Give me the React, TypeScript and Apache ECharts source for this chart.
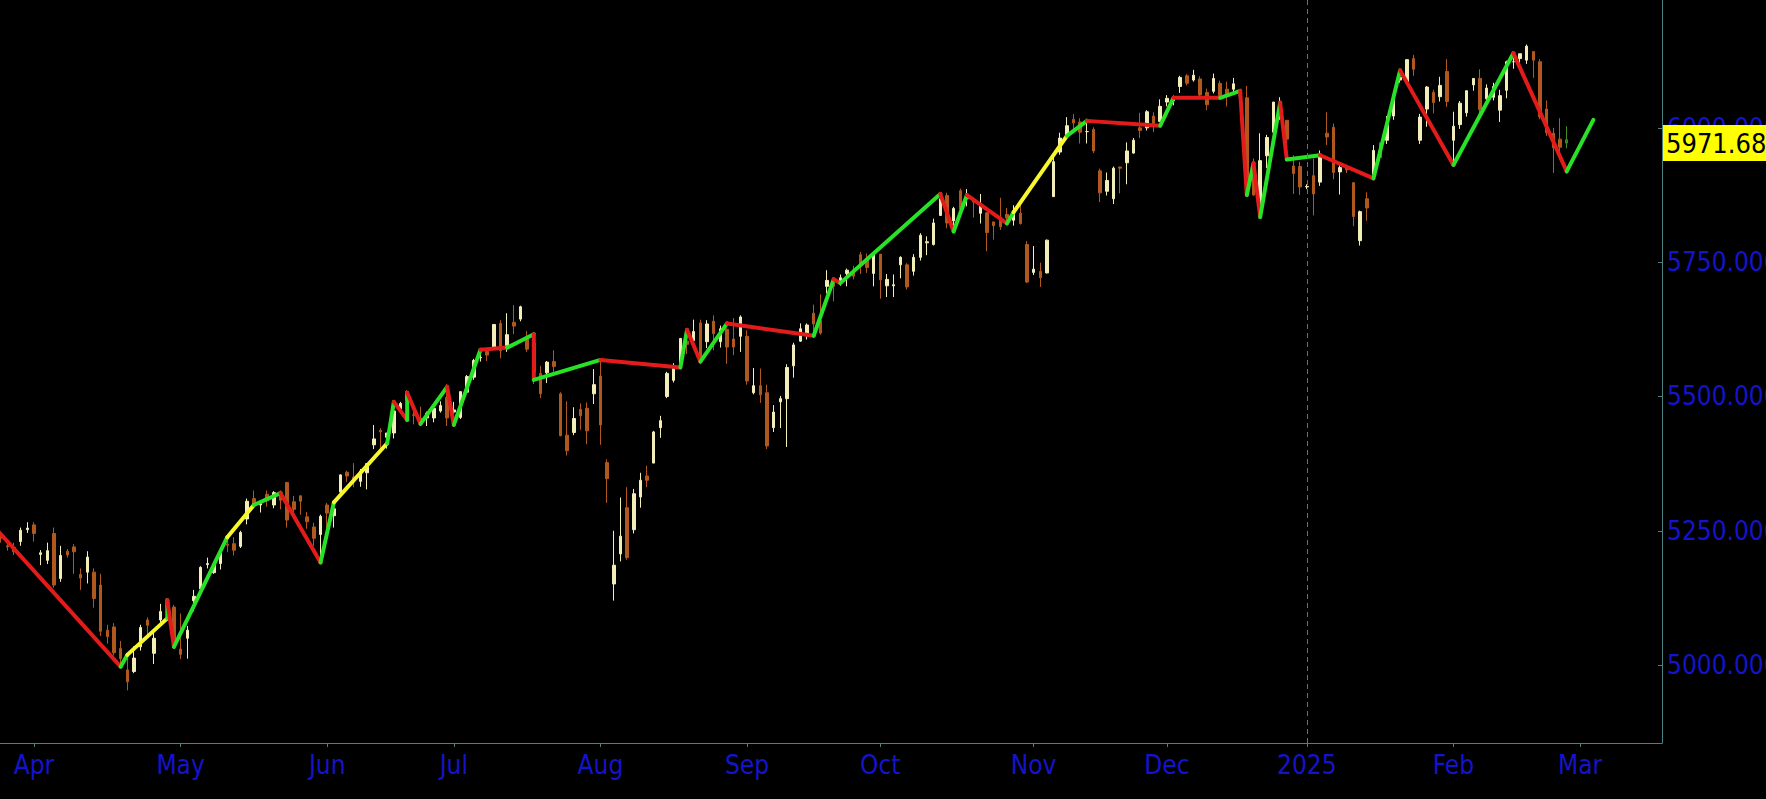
import { useEffect, useRef } from 'react';
import * as echarts from 'echarts';

type Bar = [number, number, number, number, number]; // day, open, close, low, high

const mar2024: Bar[] = [
  [22, 5242, 5236, 5228, 5246], [25, 5222, 5220, 5213, 5230], [26, 5219, 5211, 5205, 5228],
  [27, 5230, 5251, 5222, 5256], [28, 5252, 5255, 5246, 5266],
];
const apr2024: Bar[] = [
  [1, 5261, 5245, 5230, 5266], [2, 5206, 5209, 5186, 5214], [3, 5195, 5213, 5188, 5228],
  [4, 5245, 5149, 5144, 5256], [5, 5161, 5204, 5155, 5222], [8, 5212, 5205, 5200, 5216],
  [9, 5220, 5211, 5170, 5225], [10, 5169, 5162, 5140, 5180], [11, 5173, 5201, 5152, 5212],
  [12, 5173, 5124, 5107, 5180], [15, 5149, 5063, 5054, 5170], [16, 5065, 5053, 5040, 5075],
  [17, 5071, 5023, 5018, 5078], [18, 5031, 5012, 4995, 5045], [19, 4991, 4969, 4953, 5019],
  [22, 4988, 5013, 4985, 5035], [23, 5034, 5070, 5027, 5075], [24, 5084, 5074, 5052, 5089],
  [25, 5022, 5050, 5002, 5060], [26, 5084, 5100, 5080, 5114], [29, 5114, 5118, 5088, 5124],
  [30, 5108, 5038, 5035, 5112],
];
const may2024: Bar[] = [
  [1, 5030, 5020, 5011, 5096], [2, 5050, 5065, 5012, 5073], [3, 5120, 5128, 5100, 5140],
  [6, 5142, 5182, 5140, 5184], [7, 5187, 5189, 5180, 5200], [8, 5172, 5188, 5170, 5192],
  [9, 5189, 5208, 5178, 5214], [10, 5225, 5223, 5210, 5240], [13, 5226, 5214, 5204, 5238],
  [14, 5221, 5247, 5218, 5250], [15, 5272, 5305, 5262, 5310], [16, 5310, 5298, 5296, 5325],
  [17, 5298, 5303, 5284, 5306], [20, 5318, 5306, 5295, 5325], [21, 5298, 5321, 5292, 5324],
  [22, 5320, 5307, 5290, 5325], [23, 5340, 5270, 5256, 5341], [24, 5304, 5290, 5280, 5315],
  [28, 5315, 5305, 5280, 5316], [29, 5276, 5267, 5254, 5285], [30, 5257, 5236, 5222, 5265],
  [31, 5243, 5277, 5191, 5280],
];
const jun2024: Bar[] = [
  [3, 5298, 5283, 5234, 5302], [4, 5278, 5291, 5256, 5298], [5, 5322, 5354, 5315, 5355],
  [6, 5359, 5352, 5341, 5362], [7, 5350, 5347, 5331, 5376], [10, 5342, 5361, 5332, 5365],
  [11, 5358, 5375, 5327, 5376], [12, 5410, 5421, 5402, 5447], [13, 5437, 5434, 5403, 5441],
  [14, 5424, 5432, 5403, 5432], [17, 5432, 5473, 5422, 5489], [18, 5477, 5487, 5474, 5490],
  [20, 5509, 5493, 5465, 5512], [21, 5466, 5465, 5448, 5478], [24, 5460, 5448, 5445, 5481],
  [25, 5460, 5469, 5445, 5472], [26, 5460, 5478, 5452, 5483], [27, 5473, 5483, 5470, 5491],
  [28, 5498, 5460, 5445, 5523],
];
const jul2024: Bar[] = [
  [1, 5471, 5475, 5446, 5490], [2, 5461, 5509, 5458, 5510], [3, 5508, 5537, 5508, 5540],
  [5, 5536, 5567, 5531, 5570], [8, 5572, 5573, 5565, 5583], [9, 5584, 5577, 5566, 5590],
  [10, 5592, 5634, 5588, 5635], [11, 5636, 5585, 5571, 5642], [12, 5590, 5615, 5583, 5655],
  [15, 5638, 5631, 5616, 5670], [16, 5644, 5667, 5640, 5669], [17, 5610, 5588, 5583, 5622],
  [18, 5599, 5545, 5523, 5614], [19, 5543, 5505, 5497, 5557], [22, 5544, 5564, 5525, 5566],
  [23, 5565, 5556, 5546, 5586], [24, 5505, 5427, 5426, 5508], [25, 5428, 5399, 5390, 5491],
  [26, 5433, 5459, 5428, 5480], [29, 5476, 5464, 5438, 5487], [30, 5478, 5436, 5411, 5489],
  [31, 5505, 5522, 5486, 5551],
];
const aug2024: Bar[] = [
  [1, 5538, 5447, 5410, 5566], [2, 5377, 5347, 5302, 5383], [5, 5151, 5186, 5120, 5250],
  [6, 5207, 5240, 5193, 5312], [7, 5293, 5200, 5196, 5331], [8, 5252, 5319, 5245, 5328],
  [9, 5313, 5344, 5293, 5358], [12, 5352, 5344, 5331, 5371], [13, 5376, 5434, 5376, 5436],
  [14, 5442, 5455, 5423, 5464], [15, 5500, 5543, 5497, 5546], [16, 5530, 5554, 5526, 5562],
  [19, 5558, 5608, 5553, 5609], [20, 5603, 5597, 5579, 5620], [21, 5604, 5621, 5591, 5643],
  [22, 5637, 5571, 5560, 5643], [23, 5602, 5635, 5590, 5642], [26, 5640, 5617, 5586, 5651],
  [27, 5602, 5626, 5591, 5632], [28, 5625, 5592, 5561, 5627], [29, 5607, 5592, 5577, 5646],
  [30, 5612, 5648, 5583, 5651],
];
const sep2024: Bar[] = [
  [3, 5612, 5529, 5522, 5623], [4, 5507, 5520, 5504, 5553], [5, 5520, 5503, 5488, 5552],
  [6, 5507, 5408, 5402, 5522], [9, 5442, 5471, 5434, 5484], [10, 5490, 5496, 5441, 5501],
  [11, 5496, 5554, 5406, 5560], [12, 5557, 5596, 5535, 5600], [13, 5603, 5626, 5602, 5636],
  [16, 5615, 5633, 5606, 5636], [17, 5655, 5635, 5612, 5671], [18, 5641, 5618, 5615, 5690],
  [19, 5705, 5716, 5692, 5735], [20, 5711, 5705, 5677, 5718], [23, 5713, 5721, 5706, 5727],
  [24, 5729, 5735, 5705, 5738], [25, 5735, 5724, 5718, 5743], [26, 5764, 5747, 5728, 5769],
  [27, 5757, 5740, 5730, 5766], [30, 5729, 5764, 5705, 5767],
];
const oct2024: Bar[] = [
  [1, 5765, 5717, 5682, 5765], [2, 5706, 5718, 5685, 5728], [3, 5706, 5708, 5685, 5727],
  [4, 5745, 5759, 5720, 5761], [7, 5745, 5704, 5699, 5748], [8, 5733, 5759, 5725, 5765],
  [9, 5759, 5800, 5753, 5804], [10, 5786, 5788, 5763, 5798], [11, 5783, 5823, 5781, 5831],
  [14, 5837, 5868, 5837, 5879], [15, 5874, 5823, 5813, 5879], [16, 5827, 5850, 5818, 5853],
  [17, 5883, 5849, 5848, 5887], [18, 5868, 5873, 5854, 5886], [21, 5865, 5862, 5833, 5870],
  [22, 5841, 5859, 5822, 5877], [23, 5842, 5805, 5770, 5843], [24, 5825, 5818, 5792, 5825],
  [25, 5834, 5816, 5810, 5870], [28, 5839, 5832, 5827, 5851], [29, 5828, 5841, 5818, 5856],
  [30, 5841, 5822, 5820, 5858], [31, 5783, 5713, 5711, 5789],
];
const nov2024: Bar[] = [
  [1, 5731, 5737, 5726, 5780], [4, 5733, 5721, 5704, 5749], [5, 5730, 5791, 5729, 5792],
  [6, 5872, 5937, 5872, 5944], [7, 5955, 5981, 5950, 5991], [8, 5985, 6004, 5979, 6020],
  [11, 6016, 6009, 5994, 6026], [12, 6011, 5992, 5971, 6018], [13, 5993, 5993, 5971, 6017],
  [14, 5997, 5957, 5953, 6001], [15, 5920, 5879, 5862, 5924], [18, 5882, 5902, 5874, 5917],
  [19, 5868, 5925, 5858, 5928], [20, 5927, 5925, 5878, 5928], [21, 5935, 5957, 5895, 5973],
  [22, 5953, 5977, 5952, 5981], [25, 6000, 5995, 5981, 6028], [26, 6000, 6030, 5995, 6033],
  [27, 6022, 6007, 5992, 6029], [29, 6012, 6040, 6012, 6053],
];
const dec2024: Bar[] = [
  [2, 6048, 6055, 6040, 6061], [3, 6050, 6058, 6042, 6060], [4, 6077, 6094, 6065, 6097],
  [5, 6097, 6083, 6079, 6100], [6, 6089, 6098, 6086, 6108], [9, 6091, 6061, 6056, 6096],
  [10, 6066, 6043, 6033, 6073], [11, 6068, 6092, 6064, 6101], [12, 6083, 6059, 6058, 6088],
  [13, 6072, 6059, 6040, 6086], [16, 6072, 6082, 6067, 6093], [17, 6061, 6059, 6044, 6066],
  [18, 6056, 5880, 5875, 6078], [19, 5921, 5875, 5874, 5943], [20, 5851, 5939, 5840, 5990],
  [23, 5948, 5982, 5925, 5987], [24, 5992, 6048, 5991, 6048], [26, 6032, 6046, 6015, 6057],
  [27, 6014, 5979, 5941, 6014], [30, 5929, 5915, 5877, 5949], [31, 5928, 5890, 5875, 5937],
];
const jan2025: Bar[] = [
  [1, 5890, 5891, 5886, 5895], [2, 5911, 5877, 5837, 5943], [3, 5899, 5950, 5892, 5958],
  [6, 5990, 5983, 5968, 6029], [7, 6001, 5917, 5904, 6008], [8, 5918, 5926, 5876, 5935],
  [9, 5926, 5922, 5916, 5930], [10, 5898, 5835, 5817, 5898], [13, 5790, 5844, 5781, 5846],
  [14, 5868, 5851, 5827, 5880], [15, 5913, 5958, 5905, 5968], [16, 5957, 5945, 5937, 5973],
  [17, 5977, 6005, 5970, 6022], [21, 6022, 6057, 6015, 6059], [22, 6089, 6094, 6084, 6108],
  [23, 6084, 6127, 6083, 6127], [24, 6129, 6109, 6097, 6136], [27, 5977, 6020, 5970, 6026],
  [28, 6035, 6076, 6002, 6078], [29, 6066, 6047, 6027, 6071], [30, 6058, 6079, 6049, 6095],
  [31, 6105, 6049, 6039, 6128],
];
const feb2025: Bar[] = [
  [3, 5977, 6003, 5931, 6030], [4, 6006, 6046, 5998, 6050], [5, 6028, 6069, 6021, 6070],
  [6, 6080, 6092, 6069, 6092], [7, 6092, 6034, 6026, 6109], [10, 6054, 6074, 6049, 6081],
  [11, 6057, 6077, 6051, 6084], [12, 6033, 6060, 6011, 6071], [13, 6070, 6123, 6055, 6125],
  [14, 6123, 6123, 6110, 6135], [18, 6129, 6138, 6119, 6138], [19, 6126, 6152, 6119, 6155],
  [20, 6142, 6126, 6093, 6142], [21, 6123, 6021, 6016, 6128], [24, 6035, 5991, 5985, 6051],
  [25, 5990, 5963, 5916, 6000], [26, 5979, 5964, 5943, 6018], [27, 5978, 5971.689, 5962, 6003],
];

// months in order, with the label the time axis prints at the first session of each
const monthBars: Bar[][] = [mar2024, apr2024, may2024, jun2024, jul2024, aug2024, sep2024, oct2024, nov2024, dec2024, jan2025, feb2025];
const monthNames = ['', 'Apr', 'May', 'Jun', 'Jul', 'Aug', 'Sep', 'Oct', 'Nov', 'Dec', '2025', 'Feb'];
// sessions still to come before the first March session (Feb 28)
const sessionsBeforeMarch = 1;

// zigzag swing points [session index, price] and the colour of each leg between them
const swingPoints: [number, number][] = [
  [-0.3, 5248], [18, 4997], [19, 5019], [25, 5087], [25, 5121], [26, 5034], [34, 5238],
  [38, 5298], [42, 5320], [48, 5191], [50, 5303], [58, 5413], [59, 5490], [61, 5456],
  [61, 5507], [63, 5449], [67, 5518], [68, 5447], [72, 5587], [76, 5591], [80, 5616],
  [80, 5531], [90, 5568], [102, 5554], [103, 5624], [105, 5565], [109, 5636], [122, 5613],
  [125, 5718], [126, 5711], [141, 5877], [143, 5807], [145, 5875], [151, 5822], [152, 5843],
  [160, 5985], [163, 6013], [174, 6004], [176, 6056], [183, 6056], [186, 6069], [187, 5875],
  [188, 5934], [189, 5834], [192, 6047], [193, 5941], [198, 5949], [206, 5906], [210, 6107],
  [218, 5931], [227, 6139], [235, 5919], [239, 6015],
];
const legColours = [
  'red', 'green', 'yellow', 'green',
  'red', 'green', 'yellow', 'green',
  'red', 'green', 'yellow', 'green',
  'red', 'green', 'red', 'green', 'red', 'green', 'red', 'green', 'red', 'green',
  'red', 'green', 'red', 'green', 'red', 'green', 'red', 'green', 'red', 'green', 'red', 'green',
  'yellow', 'green',
  'red', 'green', 'red', 'green', 'red', 'green', 'red', 'green',
  'red', 'green', 'red', 'green', 'red', 'green', 'red', 'green',
];

const priceTicks = [5000, 5250, 5500, 5750, 6000];
const lastPrice = 5971.689;

const LEG_COLOR: Record<string, string> = { red: '#e31b1b', green: '#28e228', yellow: '#f7f72c' };
const UP = '#f3edb8';
const DOWN = '#b0581e';
const AXIS = '#4d8080';
const LABEL = '#1414cc';
const FONT = "'DejaVu Sans Condensed', 'DejaVu Sans', sans-serif";

export default function App() {
  const chartRef = useRef<HTMLDivElement>(null);

  useEffect(() => {
    if (!chartRef.current) return;
    document.body.style.margin = '0';
    document.body.style.background = '#000';
    const chart = echarts.init(chartRef.current, null, { renderer: 'svg' });

    const candles: any[] = [];
    const monthStart: number[] = [];
    const monthLabel: Record<number, string> = {};
    monthBars.forEach((bars, m) => {
      if (m > 0) {
        monthStart.push(candles.length);
        monthLabel[candles.length] = monthNames[m];
      }
      bars.forEach(([, o, c, l, h]) => candles.push([candles.length, o, c, l, h]));
    });
    const marchIdx = candles.length + sessionsBeforeMarch;
    monthStart.push(marchIdx);
    monthLabel[marchIdx] = 'Mar';
    const janIdx = monthStart[monthNames.indexOf('2025') - 1];

    // the forming session is drawn in dark green
    const last = candles[candles.length - 1];
    candles[candles.length - 1] = {
      value: last,
      itemStyle: { color: '#2f6d16', color0: '#2f6d16', borderColor: '#3f8c22', borderColor0: '#3f8c22' },
    };

    const legSeries = legColours.map((c, k) => ({
      type: 'line',
      data: [swingPoints[k], swingPoints[k + 1]],
      symbol: 'none',
      silent: true,
      z: 5,
      lineStyle: { color: LEG_COLOR[c], width: 4, cap: 'round', join: 'round' },
    }));

    chart.setOption({
      animation: false,
      backgroundColor: '#000',
      grid: { left: 0, top: 0, right: 104, bottom: 56, containLabel: false, outerBoundsMode: 'none' },
      xAxis: {
        type: 'value',
        min: -0.102,
        max: 249.3,
        axisLine: { show: true, onZero: false, lineStyle: { color: AXIS, width: 1 } },
        axisTick: { show: true, inside: false, length: 4, customValues: monthStart, lineStyle: { color: AXIS } },
        axisLabel: {
          customValues: monthStart,
          formatter: (v: number) => monthLabel[v] ?? '',
          color: LABEL,
          fontSize: 26,
          fontFamily: FONT,
          margin: 9,
        },
        splitLine: { show: false },
      },
      yAxis: {
        type: 'value',
        position: 'right',
        min: 4855,
        max: 6238,
        axisLine: { show: true, onZero: false, lineStyle: { color: AXIS, width: 1 } },
        axisTick: { show: true, inside: true, length: 4, customValues: priceTicks, lineStyle: { color: AXIS } },
        axisLabel: {
          customValues: priceTicks,
          formatter: (v: number) => v.toFixed(3),
          color: LABEL,
          fontSize: 26,
          fontFamily: FONT,
          margin: 5,
        },
        splitLine: { show: false },
      },
      series: [
        {
          type: 'candlestick',
          data: candles,
          barWidth: 3,
          silent: true,
          z: 2,
          itemStyle: {
            color: UP,
            color0: DOWN,
            borderColor: UP,
            borderColor0: DOWN,
            borderColorDoji: UP,
            borderWidth: 1,
          },
          markLine: {
            symbol: 'none',
            silent: true,
            z: 10,
            data: [
              {
                xAxis: janIdx,
                lineStyle: { color: AXIS, type: [5, 4], width: 1 },
                label: { show: false },
              },
              {
                yAxis: lastPrice,
                lineStyle: { color: 'rgba(0,0,0,0)', width: 1 },
                label: {
                  show: true,
                  position: 'end',
                  distance: 1,
                  opacity: 1,
                  formatter: lastPrice.toFixed(3),
                  color: '#000',
                  backgroundColor: '#ffff00',
                  fontSize: 27,
                  lineHeight: 28,
                  fontFamily: FONT,
                  padding: [4, 3, 4, 3],
                },
              },
            ],
          },
        },
        ...legSeries,
      ],
    });

    return () => {
      chart.dispose();
    };
  }, []);

  return <div ref={chartRef} style={{ width: '1766px', height: '799px', background: '#000' }} />;
}
